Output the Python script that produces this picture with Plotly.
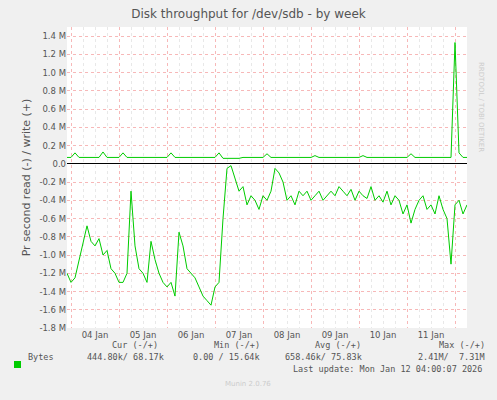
import pandas as pd
import plotly.graph_objects as go

# read (negative) and write (positive) throughput, in millions of bytes/s, sampled every 2h
read_m = [-1.2, -1.3, -1.25, -1.05, -0.85, -0.68, -0.85, -0.9, -0.82, -1.0,
          -0.95, -1.15, -1.2, -1.3, -1.3, -1.2, -0.3, -0.9, -1.15, -1.2,
          -1.3, -0.85, -1.05, -1.2, -1.3, -1.35, -1.3, -1.45, -0.75, -0.9,
          -1.15, -1.2, -1.25, -1.35, -1.45, -1.5, -1.55, -1.35, -1.3, -0.6,
          -0.05, -0.02, -0.15, -0.3, -0.25, -0.45, -0.35, -0.4, -0.5, -0.35,
          -0.4, -0.3, -0.05, -0.1, -0.2, -0.4, -0.35, -0.45, -0.3, -0.35,
          -0.3, -0.4, -0.35, -0.3, -0.4, -0.35, -0.3, -0.35, -0.25, -0.3,
          -0.35, -0.28, -0.4, -0.3, -0.35, -0.38, -0.25, -0.4, -0.35, -0.42,
          -0.3, -0.45, -0.35, -0.4, -0.55, -0.45, -0.65, -0.5, -0.4, -0.35,
          -0.5, -0.45, -0.55, -0.35, -0.5, -0.6, -1.1, -0.45, -0.4, -0.55, -0.45]
write_m = [0.07, 0.07, 0.12, 0.07, 0.07, 0.07, 0.07, 0.07, 0.07, 0.13,
           0.07, 0.07, 0.07, 0.07, 0.12, 0.07, 0.07, 0.07, 0.07, 0.07,
           0.07, 0.07, 0.07, 0.07, 0.07, 0.07, 0.12, 0.07, 0.07, 0.07,
           0.07, 0.07, 0.07, 0.07, 0.07, 0.07, 0.07, 0.07, 0.12, 0.06,
           0.06, 0.06, 0.06, 0.06, 0.07, 0.07, 0.07, 0.07, 0.07, 0.07,
           0.11, 0.07, 0.07, 0.07, 0.07, 0.07, 0.07, 0.07, 0.07, 0.07,
           0.07, 0.07, 0.09, 0.07, 0.07, 0.07, 0.07, 0.07, 0.07, 0.07,
           0.07, 0.07, 0.07, 0.07, 0.09, 0.07, 0.07, 0.07, 0.07, 0.07,
           0.07, 0.07, 0.07, 0.07, 0.07, 0.07, 0.11, 0.07, 0.07, 0.07,
           0.07, 0.07, 0.07, 0.07, 0.07, 0.07, 0.07, 1.33, 0.12, 0.07, 0.07]
times = pd.date_range("2026-01-03 22:00", periods=len(read_m), freq="2h")

y_ticks = [1.4, 1.2, 1.0, 0.8, 0.6, 0.4, 0.2, 0.0, -0.2, -0.4, -0.6, -0.8,
           -1.0, -1.2, -1.4, -1.6, -1.8]
y_text = ["0.0" if v == 0 else f"{v:.1f} M" for v in y_ticks]
days = pd.date_range("2026-01-04", "2026-01-12", freq="D")
day_labels = [d.strftime("%d Jan") for d in days[:-1]]
day_mid = [d + pd.Timedelta(hours=12) for d in days[:-1]]

GREEN = "#00CC00"
fig = go.Figure()
fig.add_trace(go.Scatter(x=times, y=read_m, mode="lines",
                         line=dict(color=GREEN, width=1), showlegend=False))
fig.add_trace(go.Scatter(x=times, y=write_m, mode="lines",
                         line=dict(color=GREEN, width=1), showlegend=False))
fig.add_trace(go.Scatter(x=day_mid, y=[None] * len(day_mid), xaxis="x2",
                         showlegend=False))

grid = dict(gridcolor="#F7B8B8", griddash="dot", gridwidth=1)
fig.update_layout(
    width=497, height=400,
    paper_bgcolor="#F0F0F0", plot_bgcolor="white",
    margin=dict(l=67, r=30, t=27, b=72),
    font=dict(family="DejaVu Sans", size=9, color="#555555"),
    title=dict(text="Disk throughput for /dev/sdb - by week", x=0.5, y=0.975,
               xanchor="center", font=dict(size=12, color="#555555")),
    xaxis=dict(range=[times[0], times[-1]], tickvals=list(days),
               showticklabels=False, showgrid=True, **grid, zeroline=False,
               automargin=False,
               minor=dict(dtick=6 * 3600000, showgrid=True,
                          gridcolor="#E8E8E8", griddash="dot")),
    xaxis2=dict(overlaying="x", side="bottom", range=[times[0], times[-1]],
                tickvals=day_mid, ticktext=day_labels, showgrid=False,
                ticks="", automargin=False,
                tickfont=dict(size=8.5, color="#555555")),
    yaxis=dict(range=[-1.8, 1.5], tickvals=y_ticks, ticktext=y_text,
               showgrid=True, **grid, zeroline=True, zerolinecolor="black",
               zerolinewidth=1, automargin=False,
               tickfont=dict(size=8.5, color="#555555"),
               title=dict(text="Pr second read (-) / write (+)",
                          font=dict(size=11, color="#555555"), standoff=6)),
)

mono = dict(family="DejaVu Sans Mono", size=8.5, color="#555555")
def note(x, y, text, **kw):
    fig.add_annotation(x=x, y=y, xref="paper", yref="paper", text=text,
                       showarrow=False, **kw)

px = lambda v: (v - 67) / 400
py = lambda v: (328 - v) / 301
note(px(160), py(352), "Cur (-/+)", font=mono, xanchor="right")
note(px(262), py(352), "Min (-/+)", font=mono, xanchor="right")
note(px(363), py(352), "Avg (-/+)", font=mono, xanchor="right")
note(px(487), py(352), "Max (-/+)", font=mono, xanchor="right")
note(px(26), py(364), "Bytes", font=mono, xanchor="left")
note(px(166), py(364), "444.80k/ 68.17k", font=mono, xanchor="right")
note(px(262), py(364), "0.00 / 15.64k", font=mono, xanchor="right")
note(px(364), py(364), "658.46k/ 75.83k", font=mono, xanchor="right")
note(px(487), py(364), "2.41M/  7.31M", font=mono, xanchor="right")
note(px(484), py(376), "Last update: Mon Jan 12 04:00:07 2026", font=mono,
     xanchor="right")
note(px(248), py(390), "Munin 2.0.76", font=dict(size=7, color="#CCCCCC"))
note(px(487), py(60), "RRDTOOL / TOBI OETIKER", textangle=90,
     font=dict(size=7, color="#CCCCCC"))
fig.add_shape(type="rect", xref="paper", yref="paper",
              x0=px(14), x1=px(21), y0=py(368), y1=py(361),
              fillcolor=GREEN, line=dict(width=0))

fig.write_html("out.html", config={"displayModeBar": False},
               post_script="document.body.style.margin='0';")
